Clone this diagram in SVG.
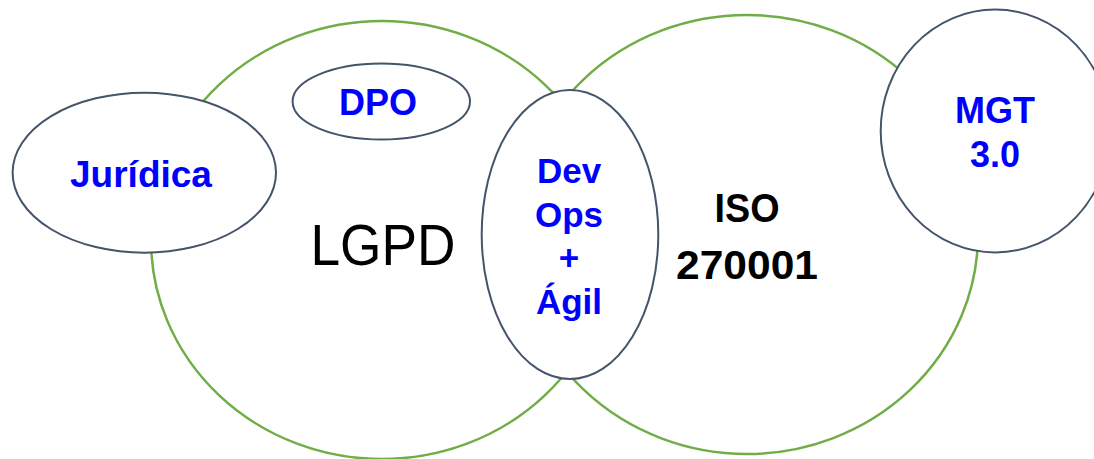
<svg xmlns="http://www.w3.org/2000/svg" width="1094" height="459" viewBox="0 0 1094 459">
  <style>
    .area { fill: #FFFFFF; stroke: #70AD47; stroke-width: 2.5; }
    .node { fill: #FFFFFF; stroke: #44546A; stroke-width: 2; }
    .lbl { font-family: "Liberation Sans", Arial, sans-serif; font-weight: bold; fill: #0000FF; text-anchor: middle; }
    .big { font-family: "Liberation Sans", Arial, sans-serif; fill: #000000; text-anchor: middle; }
  </style>
  <rect width="1094" height="459" fill="#FFFFFF"/>

  <!-- two large overlapping domains -->
  <g id="iso27001">
    <ellipse class="area" cx="747" cy="234.5" rx="231" ry="219.5"/>
    <text class="big" font-weight="bold" font-size="40" x="747" y="222" textLength="65" lengthAdjust="spacingAndGlyphs">ISO</text>
    <text class="big" font-weight="bold" font-size="40" x="747" y="279" textLength="142" lengthAdjust="spacingAndGlyphs">270001</text>
  </g>
  <g id="lgpd">
    <ellipse class="area" cx="382" cy="240" rx="231" ry="219"/>
    <text class="big" font-size="58" x="383" y="265" textLength="145" lengthAdjust="spacingAndGlyphs">LGPD</text>
  </g>

  <!-- satellite nodes -->
  <g id="juridica">
    <ellipse class="node" cx="144.3" cy="172.7" rx="131.7" ry="80"/>
    <text class="lbl" font-size="37" x="141" y="187">Jurídica</text>
  </g>
  <g id="dpo">
    <ellipse class="node" cx="381.3" cy="101.5" rx="88.7" ry="38"/>
    <text class="lbl" font-size="36" x="378" y="115">DPO</text>
  </g>
  <g id="devops">
    <ellipse class="node" cx="570" cy="234.5" rx="88.3" ry="144.5"/>
    <text class="lbl" font-size="35" x="569" y="183">Dev</text>
    <text class="lbl" font-size="35" x="569" y="226.5">Ops</text>
    <text class="lbl" font-size="35" x="569" y="270">+</text>
    <text class="lbl" font-size="35" x="569" y="313.5">Ágil</text>
  </g>
  <g id="mgt">
    <ellipse class="node" cx="995.3" cy="131" rx="114.6" ry="121.4"/>
    <text class="lbl" font-size="36" x="995" y="122.7">MGT</text>
    <text class="lbl" font-size="36" x="995" y="166.7">3.0</text>
  </g>
</svg>
